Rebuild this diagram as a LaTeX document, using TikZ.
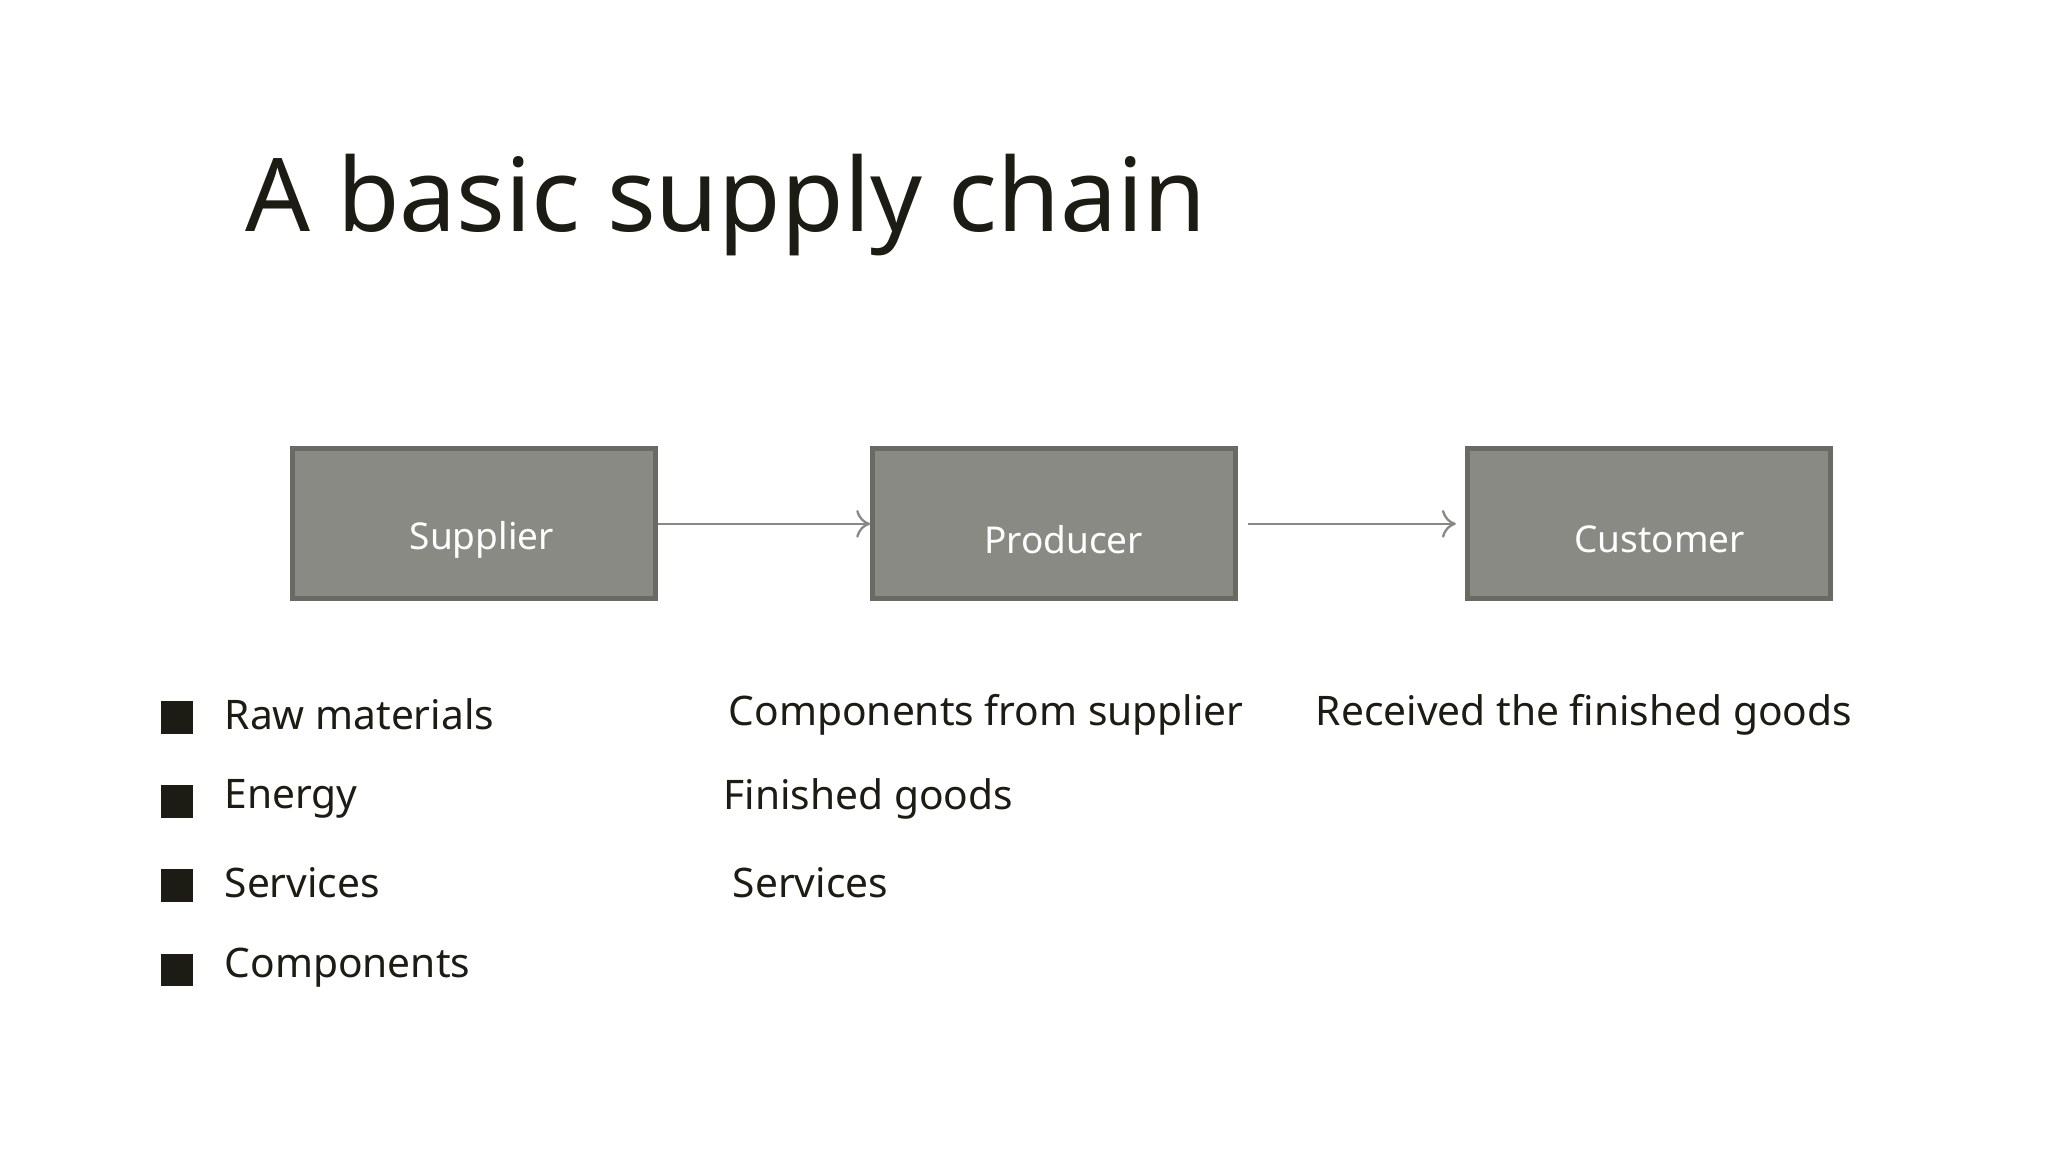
\documentclass[tikz,border=0pt]{standalone}
\usepackage{fontspec}
\setmainfont{Noto Sans}
\usetikzlibrary{arrows.meta}
\definecolor{boxfill}{HTML}{8A8A84}
\definecolor{boxline}{HTML}{6A6A65}
\definecolor{ink}{HTML}{1C1C14}
\tikzset{
  stage/.style={draw=boxline, fill=boxfill, line width=1.1pt, minimum width=2.76cm, minimum height=1.14cm, inner sep=0pt},
  flow/.style={draw=boxline!80, line width=0.5pt, -{To[length=3pt,width=6pt]}},
  item/.style={anchor=west, text=ink, font=\fontsize{8.8}{10}\selectfont, inner sep=0pt},
  bullet/.style={fill=ink, minimum size=0.25cm, inner sep=0pt}
}
\begin{document}
\begin{tikzpicture}
    \useasboundingbox (0,0) rectangle (15.56,8.75);
    \node[anchor=west, text=ink, font=\fontsize{22}{26}\selectfont, inner sep=0pt] (title) at (1.86, 7.19) {A basic supply chain};

    \node[stage] (sup) at (3.60, 4.77) {};
    \node[stage] (pro) at (8.01, 4.77) {};
    \node[stage] (cus) at (12.53, 4.77) {};
    \node[text=white, font=\fontsize{8}{10}\selectfont] (suplab) at (3.66, 4.65) {Supplier};
    \node[text=white, font=\fontsize{8}{10}\selectfont] (prolab) at (8.08, 4.65) {Producer};
    \node[text=white, font=\fontsize{8}{10}\selectfont] (cuslab) at (12.61, 4.65) {Customer};

    \draw[flow] (sup.east) -- (pro.west);
    \draw[flow] ([xshift=0.07cm]pro.east) -- ([xshift=-0.07cm]cus.west);

    \node[bullet] (b1) at (1.345, 3.30) {};
    \node[bullet] (b2) at (1.345, 2.66) {};
    \node[bullet] (b3) at (1.345, 2.02) {};
    \node[bullet] (b4) at (1.345, 1.38) {};
    \node[item] (t1) at (1.70, 3.32) {Raw materials};
    \node[item] (t2) at (1.70, 2.68) {Energy};
    \node[item] (t3) at (1.70, 2.04) {Services};
    \node[item] (t4) at (1.70, 1.40) {Components};

    \node[item] (p1) at (5.53, 3.32) {Components from supplier};
    \node[item] (p2) at (5.49, 2.68) {Finished goods};
    \node[item] (p3) at (5.56, 2.04) {Services};

    \node[item] (c1) at (9.99, 3.32) {Received the finished goods};
\end{tikzpicture}
\end{document}
